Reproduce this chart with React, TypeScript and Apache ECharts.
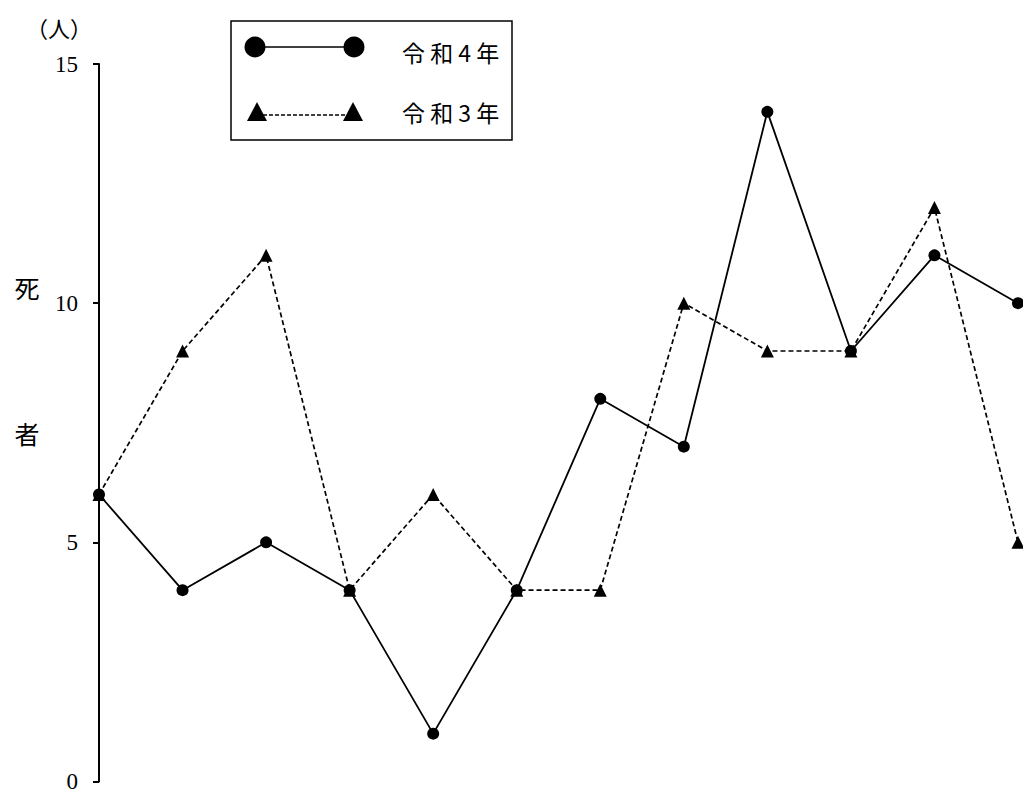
import { useEffect, useRef } from "react";
import * as echarts from "echarts";

const categories = ["1月", "2月", "3月", "4月", "5月", "6月", "7月", "8月", "9月", "10月", "11月", "12月"];
const seriesR4 = [6, 4, 5, 4, 1, 4, 8, 7, 14, 9, 11, 10];
const seriesR3 = [6, 9, 11, 4, 6, 4, 4, 10, 9, 9, 12, 5];
const seriesNames = ["令和４年", "令和３年"];
const legendLabels = ["令 和 4 年", "令 和 3 年"];
const yMin = 0;
const yMax = 15;
const yInterval = 5;
const unitLabel = "（人）";
const axisTitleChars = ["死", "者"];

export default function App() {
  const ref = useRef<HTMLDivElement>(null);
  useEffect(() => {
    if (!ref.current) return;
    const chart = echarts.init(ref.current, null, { renderer: "svg" });
    const serif = "Liberation Serif";
    const cjk = "Noto Sans CJK JP";
    chart.setOption({
      animation: false,
      backgroundColor: "#ffffff",
      grid: { left: 99, right: 5, top: 64, bottom: 8, containLabel: false },
      xAxis: {
        type: "category",
        data: categories,
        boundaryGap: false,
        show: true,
        axisLine: { show: false },
        axisTick: { show: false },
        axisLabel: { show: false },
        splitLine: { show: false },
      },
      yAxis: {
        type: "value",
        min: yMin,
        max: yMax,
        interval: yInterval,
        splitLine: { show: false },
        axisLine: { show: true, lineStyle: { color: "#000", width: 2 } },
        axisTick: { show: true, length: 6, lineStyle: { color: "#000", width: 2 } },
        axisLabel: { margin: 21, fontSize: 23, fontFamily: serif, color: "#000" },
      },
      series: [
        {
          name: seriesNames[1],
          type: "line",
          data: seriesR3,
          symbol: "triangle",
          symbolSize: 13,
          clip: false,
          lineStyle: { color: "#000", width: 1.7, type: [5, 3] },
          itemStyle: { color: "#000" },
          z: 2,
        },
        {
          name: seriesNames[0],
          type: "line",
          data: seriesR4,
          symbol: "circle",
          symbolSize: 12,
          clip: false,
          lineStyle: { color: "#000", width: 1.8 },
          itemStyle: { color: "#000" },
          z: 3,
        },
      ],
      graphic: [
        { type: "text", x: 59, y: 27, style: { text: unitLabel, fontSize: 22, fontFamily: cjk, fill: "#000", align: "center", verticalAlign: "middle" } },
        { type: "text", x: 27, y: 287, style: { text: axisTitleChars[0], fontSize: 25, fontFamily: cjk, fill: "#000", align: "center", verticalAlign: "middle" } },
        { type: "text", x: 27, y: 433, style: { text: axisTitleChars[1], fontSize: 25, fontFamily: cjk, fill: "#000", align: "center", verticalAlign: "middle" } },
        {
          type: "rect",
          shape: { x: 231, y: 21, width: 281, height: 119 },
          style: { fill: "#fff", stroke: "#000", lineWidth: 1.5 },
          z: 10,
        },
        { type: "line", shape: { x1: 255, y1: 47, x2: 354, y2: 47 }, style: { stroke: "#000", lineWidth: 1.5 }, z: 11 },
        { type: "circle", shape: { cx: 255, cy: 47, r: 10.5 }, style: { fill: "#000" }, z: 12 },
        { type: "circle", shape: { cx: 354, cy: 47, r: 10.5 }, style: { fill: "#000" }, z: 12 },
        { type: "line", shape: { x1: 257, y1: 115, x2: 353, y2: 115 }, style: { stroke: "#000", lineWidth: 1.5, lineDash: [4, 2] }, z: 11 },
        { type: "polygon", shape: { points: [[247, 121], [257, 102], [267, 121]] }, style: { fill: "#000" }, z: 12 },
        { type: "polygon", shape: { points: [[343, 121], [353, 102], [363, 121]] }, style: { fill: "#000" }, z: 12 },
        { type: "text", x: 402, y: 52, style: { text: legendLabels[0], fontSize: 23, fontFamily: cjk, fill: "#000", verticalAlign: "middle" }, z: 12 },
        { type: "text", x: 402, y: 112, style: { text: legendLabels[1], fontSize: 23, fontFamily: cjk, fill: "#000", verticalAlign: "middle" }, z: 12 },
      ],
    });
    return () => chart.dispose();
  }, []);
  return <div ref={ref} style={{ position: "fixed", left: 0, top: 0, width: 1023, height: 793 }} />;
}
